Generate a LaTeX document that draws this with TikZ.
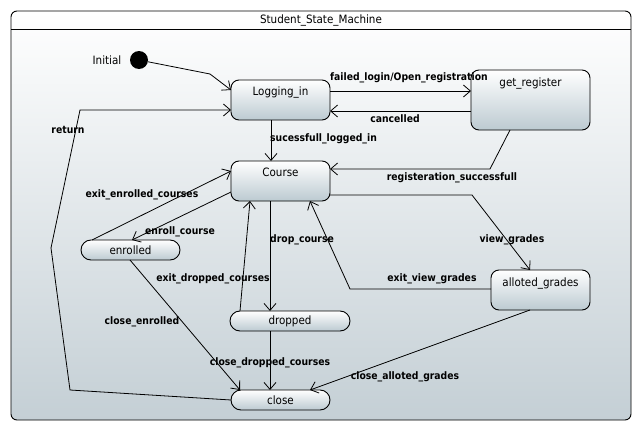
\documentclass[tikz,border=0pt]{standalone}
\usepackage{fontspec}
\setmainfont{DejaVu Sans Condensed}
\usetikzlibrary{arrows.meta}
\definecolor{bgbot}{RGB}{196,207,213}
\definecolor{stbot}{RGB}{188,202,209}
\begin{document}
\begin{tikzpicture}[x=1pt,y=-1pt,
 txt/.style={font=\fontsize{11.5}{13}\selectfont, inner sep=0pt},
 st/.style={draw, line width=0.9pt, rounded corners=8pt, top color=white, bottom color=stbot, inner sep=0pt, outer sep=0pt},
 pill/.style={st, rounded corners=10pt, minimum width=99pt, minimum height=20pt, font=\fontsize{11.5}{13}\selectfont},
 lbl/.style={font=\bfseries\fontsize{10.3}{12}\selectfont, inner sep=0pt},
 tr/.style={draw, line width=0.8pt, -{Straight Barb[length=7pt,width=12pt,line width=0.8pt]}},
]
\path[use as bounding box] (0,0) rectangle (641,431);
\draw[line width=0.9pt, rounded corners=6pt, top color=white, bottom color=bgbot] (11,11) rectangle (631,420);
\draw[line width=0.9pt] (11,29) -- (631,29);
\node[txt] (title) at (321,20) {Student\_State\_Machine};

% states
\node[circle, fill=black, minimum size=18pt, inner sep=0pt] (init) at (139,60) {};
\node[txt] (initlbl) at (107,60) {Initial};
\node[st, minimum width=99pt, minimum height=40pt,
      label={[txt, anchor=center, yshift=-12pt]north:Logging\_in}] (lg) at (280.5,100) {};
\node[st, minimum width=119pt, minimum height=60pt,
      label={[txt, anchor=center, yshift=-13pt]north:get\_register}] (gr) at (530.5,100) {};
\node[st, minimum width=99pt, minimum height=40pt,
      label={[txt, anchor=center, yshift=-11pt]north:Course}] (course) at (280.5,181) {};
\node[st, minimum width=99pt, minimum height=40pt,
      label={[txt, anchor=center, yshift=-13pt]north:alloted\_grades}] (ag) at (540.5,290) {};
\node[pill] (enrolled) at (130.5,250) {enrolled};
\node[pill, minimum width=120pt] (dropped) at (290,321) {dropped};
\node[pill] (close) at (280.5,400) {close};

% transitions
\draw[tr] (init) -- (210,74) -- ([yshift=-10pt]lg.north west);
\draw[tr] (close.west) -- (70,390) -- (51,248) -- (80,110) -- (lg.west |- 0,110);
\draw[tr] (lg.east |- 0,91) -- (gr.west |- 0,91);
\draw[tr] (gr.west |- 0,111) -- (lg.east |- 0,111);
\draw[tr] (lg.south -| 271,0) -- (course.north -| 271,0);
\draw[tr] (gr.south -| 510,0) -- (490,169) -- (course.east |- 0,169);
\draw[tr] (enrolled.north -| 92,0) -- (course.west |- 0,171);
\draw[tr] (course.west |- 0,192) -- (enrolled.north -| 132,0);
\draw[tr] (course.south -| 270,0) -- (dropped.north -| 270,0);
\draw[tr] (dropped.north -| 240,0) -- (course.south -| 250,0);
\draw[tr] (course.east |- 0,195) -- (472,195) -- (ag.north -| 530,0);
\draw[tr] (ag.west |- 0,289) -- (350,289) -- (course.south -| 310,0);
\draw[tr] (enrolled.south -| 130,0) -- (close.north -| 240,0);
\draw[tr] (dropped.south -| 270,0) -- (close.north -| 270,0);
\draw[tr] (ag.south -| 530,0) -- (close.north -| 310,0);

% labels
\node[lbl] (l1) at (68,130) {return};
\node[lbl, anchor=west] (l2) at (330,78) {failed\_login/Open\_registration};
\node[lbl] (l3) at (395,119) {cancelled};
\node[lbl, anchor=west] (l4) at (270,139) {sucessfull\_logged\_in};
\node[lbl] (l5) at (452,178) {registeration\_successfull};
\node[lbl] (l6) at (142,195) {exit\_enrolled\_courses};
\node[lbl] (l7) at (180,232) {enroll\_course};
\node[lbl, anchor=west] (l8) at (270,240) {drop\_course};
\node[lbl] (l9) at (213,279) {exit\_dropped\_courses};
\node[lbl] (l10) at (512,240) {view\_grades};
\node[lbl] (l11) at (432,279) {exit\_view\_grades};
\node[lbl] (l12) at (142,322) {close\_enrolled};
\node[lbl] (l13) at (270,363) {close\_dropped\_courses};
\node[lbl] (l14) at (405,377) {close\_alloted\_grades};
\end{tikzpicture}
\end{document}
